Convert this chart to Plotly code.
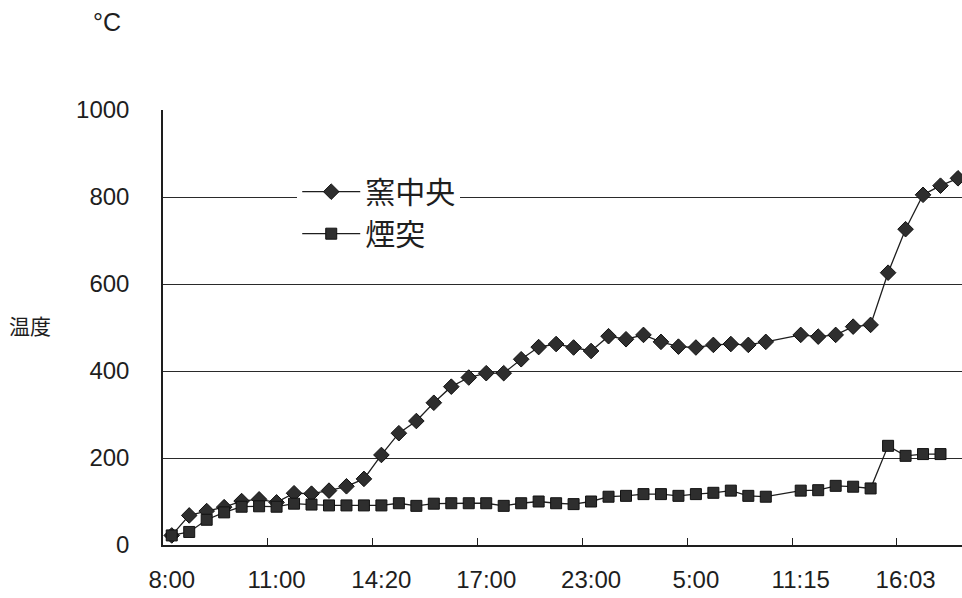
import plotly.graph_objects as go

# Category positions (index along the category axis); index 35 has no reading
categories = list(range(46))
tick_positions = [0, 6, 12, 18, 24, 30, 36, 42]
tick_labels = ["8:00", "11:00", "14:20", "17:00", "23:00", "5:00", "11:15", "16:03"]

kiln_center = [22, 68, 78, 87, 101, 105, 98, 119, 118, 125,
               135, 152, 207, 257, 285, 327, 364, 385, 395, 395,
               427, 455, 462, 454, 446, 480, 473, 483, 467, 456,
               454, 460, 462, 460, 467, None, 483, 479, 483, 502,
               506, 626, 726, 805, 826, 843]

chimney = [22, 30, 58, 75, 88, 89, 88, 95, 93, 91,
           91, 91, 91, 96, 90, 95, 96, 96, 96, 90,
           96, 100, 96, 94, 100, 111, 113, 117, 117, 113,
           117, 120, 125, 113, 111, None, 125, 126, 136, 134,
           130, 228, 205, 209, 209, None]

series_names = ["窯中央", "煙突"]

SANS = "Liberation Sans, Arial, sans-serif"
CJK = "Noto Sans CJK JP, Noto Sans CJK SC, sans-serif"
INK = "#1e1e1e"

fig = go.Figure()
fig.add_trace(go.Scatter(
    x=categories, y=kiln_center, name=series_names[0], mode="lines+markers",
    connectgaps=True,
    line=dict(color=INK, width=1.3),
    marker=dict(symbol="diamond", size=12, color="#2e2e2e",
                line=dict(color="#111111", width=1)),
))
fig.add_trace(go.Scatter(
    x=categories, y=chimney, name=series_names[1], mode="lines+markers",
    connectgaps=True,
    line=dict(color=INK, width=1.3),
    marker=dict(symbol="square", size=11, color="#2e2e2e",
                line=dict(color="#111111", width=1)),
))

minor_ticks = [p + 5.5 for p in range(0, 42, 6)]

fig.update_layout(
    width=962, height=598,
    margin=dict(l=163, r=0, t=110, b=53),
    paper_bgcolor="white", plot_bgcolor="white",
    showlegend=True,
    legend=dict(
        x=0.168, y=0.872, xanchor="left", yanchor="top",
        bgcolor="white", borderwidth=0,
        font=dict(family=CJK, size=30, color=INK),
        itemwidth=58, tracegroupgap=0,
    ),
    xaxis=dict(
        range=[-0.5, 45.23], automargin=False,
        tickmode="array", tickvals=tick_positions, ticktext=tick_labels,
        ticks="", showgrid=False, zeroline=False,
        showline=True, linecolor=INK, linewidth=1.5,
        tickfont=dict(family=SANS, size=24, color=INK),
        ticklabelstandoff=12,
        minor=dict(tickmode="array", tickvals=minor_ticks, ticks="inside",
                   ticklen=7, tickwidth=1.2, tickcolor=INK, showgrid=False),
    ),
    yaxis=dict(
        range=[0, 1000], automargin=False,
        tickmode="array", tickvals=[0, 200, 400, 600, 800, 1000],
        ticks="", showgrid=True, gridcolor="#2a2a2a", gridwidth=1.4,
        zeroline=False,
        showline=True, linecolor=INK, linewidth=1.5,
        tickfont=dict(family=SANS, size=24, color=INK),
        ticklabelstandoff=27,
    ),
    annotations=[
        dict(text="°C", xref="paper", yref="paper", x=-0.0701, y=1.202,
             xanchor="center", yanchor="middle",
             showarrow=False, font=dict(family=SANS, size=25, color=INK)),
        dict(text="温度", xref="paper", yref="paper", x=-0.166, y=0.505,
             xanchor="center", yanchor="middle",
             showarrow=False, font=dict(family=CJK, size=21, color=INK)),
    ],
)

fig.write_html(
    "out.html",
    config={"displayModeBar": False},
    post_script="document.body.style.margin='0';document.body.style.overflow='hidden';",
)
